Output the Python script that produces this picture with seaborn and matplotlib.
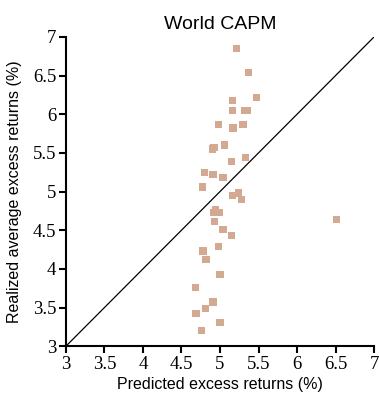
import matplotlib
matplotlib.use("Agg")
import matplotlib.pyplot as plt
import seaborn as sns
import pandas as pd

# Values
predicted = [5.21, 5.37, 5.47, 5.16, 5.16, 5.32, 5.36, 4.98, 5.17, 5.30,
             4.90, 4.92, 5.06, 5.33, 5.15, 4.80, 4.91, 5.04, 4.77, 5.16,
             5.24, 5.28, 4.94, 4.92, 4.99, 4.93, 6.51, 5.04, 5.15, 4.98,
             4.78, 4.82, 5.00, 4.68, 4.91, 4.81, 4.69, 5.00, 4.76]
realized = [6.85, 6.54, 6.22, 6.18, 6.05, 6.05, 6.05, 5.87, 5.82, 5.87,
            5.55, 5.57, 5.60, 5.44, 5.39, 5.25, 5.22, 5.18, 5.06, 4.95,
            4.98, 4.90, 4.76, 4.73, 4.73, 4.61, 4.64, 4.51, 4.43, 4.29,
            4.23, 4.12, 3.93, 3.76, 3.57, 3.49, 3.42, 3.31, 3.20]
ticks = [3, 3.5, 4, 4.5, 5, 5.5, 6, 6.5, 7]
tick_labels = ["3", "3.5", "4", "4.5", "5", "5.5", "6", "6.5", "7"]

df = pd.DataFrame({"predicted": predicted, "realized": realized})

sns.set_style("ticks")
plt.rcParams["font.family"] = ["Liberation Sans", "DejaVu Sans"]
plt.rcParams["text.color"] = "black"
plt.rcParams["axes.labelcolor"] = "black"
plt.rcParams["xtick.color"] = "black"
plt.rcParams["ytick.color"] = "black"

fig = plt.figure(figsize=(3.79, 3.97), dpi=100)
ax = fig.add_axes([0.174, 0.128, 0.813, 0.779])

ax.plot([3, 7], [3, 7], color="black", linewidth=0.9, zorder=1)
sns.scatterplot(data=df, x="predicted", y="realized", marker="s", s=28,
                color="#D3AA91", edgecolor="none", linewidth=0, ax=ax, zorder=2)

ax.set_xlim(3, 7)
ax.set_ylim(3, 7)
ax.set_xticks(ticks)
ax.set_yticks(ticks)
ax.set_xticklabels(tick_labels, family="Liberation Serif", fontsize=13.5)
ax.set_yticklabels(tick_labels, family="Liberation Serif", fontsize=13.5)
ax.tick_params(direction="out", length=5, width=1.5, colors="black", pad=2)

sns.despine(ax=ax)
for side in ["left", "bottom"]:
    ax.spines[side].set_linewidth(1.5)
    ax.spines[side].set_color("black")

ax.set_xlabel("Predicted excess returns (%)", fontsize=11.5, labelpad=3)
ax.set_ylabel("Realized average excess returns (%)", fontsize=11.5, labelpad=8)
ax.set_title("World CAPM", fontsize=14, pad=6, color="black")

fig.savefig("out.png", dpi=100)
